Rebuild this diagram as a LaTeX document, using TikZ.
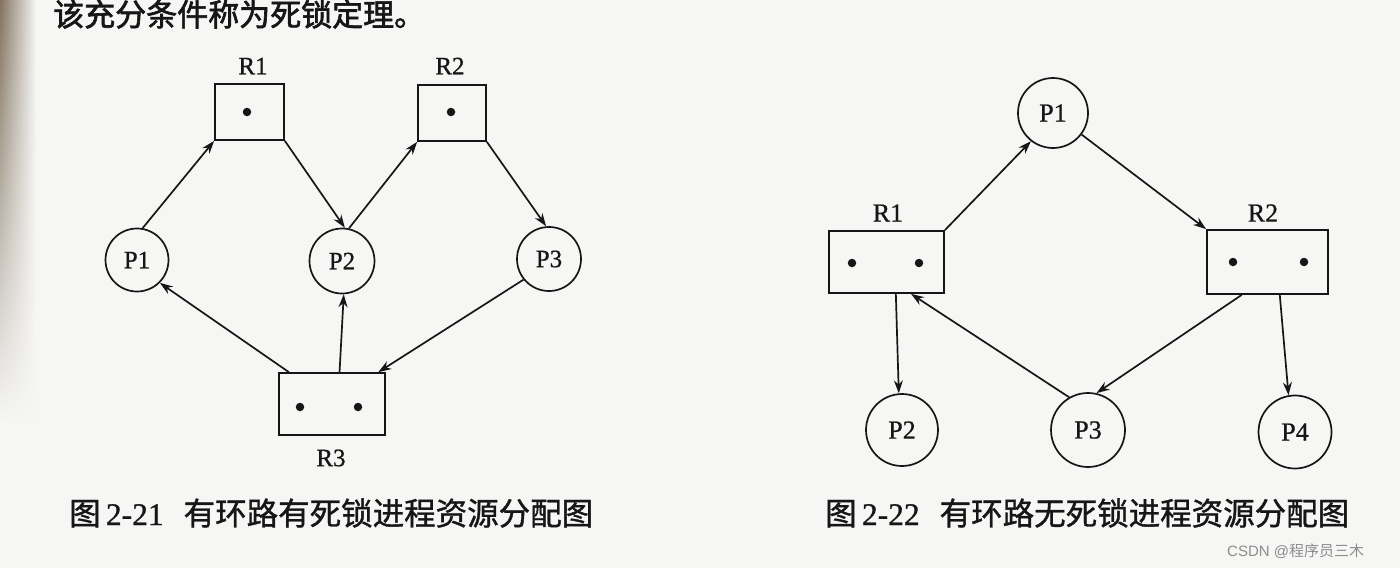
\documentclass[tikz,border=0pt]{standalone}
\usepackage{fontspec}
\setmainfont{Liberation Serif}
\newfontfamily\lab[FakeBold=0.8]{Liberation Serif}
\newfontfamily\cjk[FakeBold=1.2]{Noto Sans CJK SC}
\newfontfamily\cjkhead[FakeBold=2]{Noto Sans CJK SC}
\newfontfamily\cjkwm{Noto Sans CJK SC}
\newfontfamily\wmfont{Liberation Sans}
\usetikzlibrary{arrows.meta,calc,fadings}
\definecolor{paper}{RGB}{246,246,245}
\definecolor{ink}{RGB}{22,22,22}
\definecolor{edgeshadow}{RGB}{130,115,95}
\begin{document}
\begin{tikzpicture}[x=1pt,y=-1pt,
  proc/.style={draw=ink, circle, line width=1.7pt, inner sep=0pt, text=ink},
  res/.style={draw=ink, rectangle, line width=1.7pt, inner sep=0pt},
  tok/.style={fill=ink, circle, inner sep=0pt, minimum size=8.5pt},
  arr/.style={draw=ink, line width=1.7pt, -{Stealth[length=13pt,width=9pt]}},
  lbl/.style={inner sep=0pt, text=ink},
  lfont/.style={font=\lab\fontsize{25}{27}\selectfont},
  rfont/.style={font=\lab\fontsize{26}{28}\selectfont},
  capt/.style={anchor=west, inner sep=0pt, text=ink, font=\lab\fontsize{31.5}{33}\selectfont},
]
\useasboundingbox (0,0) rectangle (1400,568);
\fill[paper] (0,0) rectangle (1400,568);
\shade[left color=edgeshadow, right color=paper, path fading=south] (0,0) rectangle (36,420);

% top line of text (cut off at the top edge, as in the photo)
\node[anchor=base west, inner sep=0pt, text=ink, font=\cjkhead\fontsize{31}{33}\selectfont] (toptext) at (53,26) {该充分条件称为死锁定理。};

% ---------- left diagram ----------
\node[res, minimum width=69pt, minimum height=56pt] (LR1) at (249.5,112) {};
\node[tok] (LR1a) at (247,112) {};
\node[lbl, lfont] (LR1l) at (253,66) {R1};
\node[res, minimum width=68pt, minimum height=56pt] (LR2) at (452,113) {};
\node[tok] (LR2a) at (451,112) {};
\node[lbl, lfont] (LR2l) at (450,66) {R2};
\node[res, minimum width=106pt, minimum height=62pt] (LR3) at (332,404) {};
\node[tok] (LR3a) at (300,407) {};
\node[tok] (LR3b) at (358,407) {};
\node[lbl, lfont] (LR3l) at (331,458) {R3};

\node[proc, lfont, minimum size=63pt] (LP1) at (137,260) {P1};
\node[proc, lfont, minimum size=65pt] (LP2) at (342,261) {P2};
\node[proc, lfont, minimum size=64pt] (LP3) at (549,259) {P3};

\draw[arr] (LP1.80) -- (LR1.south west);
\draw[arr] (LR1.south east) -- (LP2.85);
\draw[arr] (LP2.78) -- (LR2.south west);
\draw[arr] (LR2.south east) -- (LP3.95);
\draw[arr] ($(LR3.north west)!0.1!(LR3.north east)$) -- (LP1.-45);
\draw[arr] ($(LR3.north west)!0.57!(LR3.north east)$) -- (LP2.-87);
\draw[arr] (LP3.219) -- ($(LR3.north west)!0.93!(LR3.north east)$);

% ---------- right diagram ----------
\node[proc, rfont, minimum size=70pt] (RP1) at (1053,113) {P1};
\node[res, minimum width=115pt, minimum height=62pt] (RR1) at (886.5,262) {};
\node[tok] (RR1a) at (852,263) {};
\node[tok] (RR1b) at (919,263) {};
\node[lbl, rfont] (RR1l) at (888,213) {R1};
\node[res, minimum width=121pt, minimum height=64pt] (RR2) at (1267.5,262) {};
\node[tok] (RR2a) at (1233,262) {};
\node[tok] (RR2b) at (1304,262) {};
\node[lbl, rfont] (RR2l) at (1263,213) {R2};
\node[proc, rfont, minimum size=72pt] (RP2) at (902,430) {P2};
\node[proc, rfont, minimum size=74pt] (RP3) at (1088,430) {P3};
\node[proc, rfont, minimum size=73pt] (RP4) at (1295,432) {P4};

\draw[arr] (RR1.north east) -- (RP1.232);
\draw[arr] (RP1.-37) -- (RR2.north west);
\draw[arr] ($(RR1.south west)!0.58!(RR1.south east)$) -- (RP2.95);
\draw[arr] (RP3.120) -- ($(RR1.south west)!0.71!(RR1.south east)$);
\draw[arr] ($(RR2.south west)!0.29!(RR2.south east)$) -- (RP3.77);
\draw[arr] ($(RR2.south west)!0.6!(RR2.south east)$) -- (RP4.100);

% ---------- captions ----------
\node[capt] (cap1) at (69,513) {{\cjk 图}\,2-21\hspace{20pt}{\cjk 有环路有死锁进程资源分配图}};
\node[capt] (cap2) at (825,513) {{\cjk 图}\,2-22\hspace{20pt}{\cjk 有环路无死锁进程资源分配图}};

% watermark
\node[anchor=west, inner sep=0pt, text=black!45, font=\wmfont\fontsize{15}{17}\selectfont] (wm) at (1227,551) {CSDN @{\cjkwm 程序员三木}};
\end{tikzpicture}
\end{document}
